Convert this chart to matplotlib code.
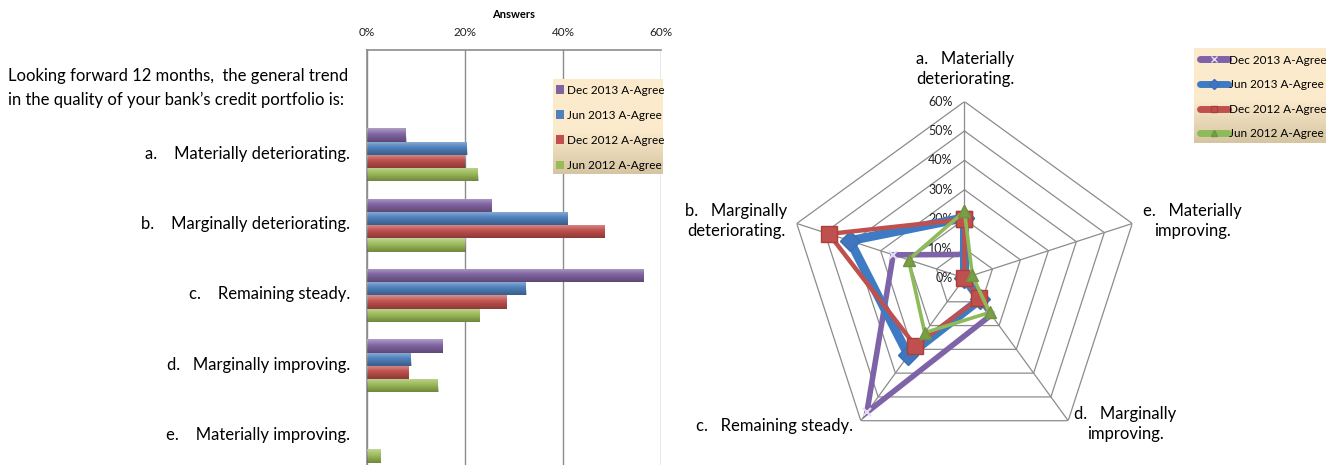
import numpy as np
import matplotlib.pyplot as plt
from matplotlib.patches import Patch
from matplotlib.lines import Line2D

plt.rcParams['font.family'] = ['Lato', 'DejaVu Sans']

W, H = 1336, 465

# ---- data -------------------------------------------------------------
question = ["Looking forward 12 months,  the general trend",
            "in the quality of your bank\u2019s credit portfolio is:"]
categories = ["a.    Materially deteriorating.",
              "b.    Marginally deteriorating.",
              "c.    Remaining steady.",
              "d.   Marginally improving.",
              "e.    Materially improving."]
radar_labels = ["a.   Materially\ndeteriorating.",
                "b.   Marginally\ndeteriorating.",
                "c.   Remaining steady.",
                "d.   Marginally\nimproving.",
                "e.   Materially\nimproving."]
series_names = ["Dec 2013 A-Agree", "Jun 2013 A-Agree",
                "Dec 2012 A-Agree", "Jun 2012 A-Agree"]
dec_2013 = [8.0, 25.5, 56.5, 15.5, 0.0]
jun_2013 = [20.5, 41.0, 32.5, 9.0, 0.0]
dec_2012 = [20.0, 48.5, 28.5, 8.5, 0.0]
jun_2012 = [22.7, 20.0, 23.0, 14.5, 2.8]
bar_ticks = [0, 20, 40, 60]
radial_ticks = [0, 10, 20, 30, 40, 50, 60]

series = [dec_2013, jun_2013, dec_2012, jun_2012]
colors = ["#8064A2", "#4F81BD", "#C0504D", "#9BBB59"]


def fx(x):
    return x / W


def fy(y):
    return 1 - y / H


fig = plt.figure(figsize=(W / 100, H / 100), dpi=100)


def gradient_panel(x0, y0, x1, y1, top="#FBEACB", bottom="#D6C5A2"):
    pax = fig.add_axes([fx(x0), fy(y1), fx(x1 - x0), (y1 - y0) / H], zorder=3)
    t = np.array(plt.matplotlib.colors.to_rgb(top))
    b = np.array(plt.matplotlib.colors.to_rgb(bottom))
    s = np.linspace(0, 1, 100)[:, None]
    s = np.where(s < 0.55, 0, (s - 0.55) / 0.45)
    img = (t[None, :] * (1 - s) + b[None, :] * s)[:, None, :]
    pax.imshow(img, aspect="auto", extent=[0, 1, 0, 1])
    pax.set_axis_off()
    return pax


# ---- horizontal bar chart --------------------------------------------
ax = fig.add_axes([fx(367), 0, fx(661 - 367), fy(50)])
n = len(categories)
y = np.arange(n)
h = 0.188
offsets = [-1.5 * h, -0.5 * h, 0.5 * h, 1.5 * h]

shade = np.zeros((50, 1, 4))
ramp = np.linspace(0, 1, 50)
for i, r in enumerate(ramp):
    if r < 0.45:
        shade[i, 0] = [1, 1, 1, 0.38 * (1 - r / 0.45)]
    else:
        shade[i, 0] = [0, 0, 0, 0.28 * (r - 0.45) / 0.55]

for vals, off, col in zip(series, offsets, colors):
    bars = ax.barh(y + off, vals, height=h, color=col, zorder=2)
    for bar in bars:
        bx, by = bar.get_x(), bar.get_y()
        bw, bh = bar.get_width(), bar.get_height()
        if bw <= 0:
            continue
        im = ax.imshow(shade, aspect="auto", extent=[bx, bx + bw, by + bh, by],
                       zorder=3, interpolation="bilinear")
        im.set_clip_path(bar)

ax.set_xlim(0, 60)
ax.set_ylim(4.41, -1.49)
ax.set_xticks(bar_ticks)
ax.set_xticklabels([f"{t}%" for t in bar_ticks], fontsize=8.5, color="#222222")
ax.xaxis.tick_top()
ax.tick_params(axis="x", length=0, pad=9)
ax.set_yticks([])
ax.set_xlabel("Answers", fontsize=8, fontweight="bold", labelpad=6)
ax.xaxis.set_label_position("top")
ax.grid(axis="x", color="#8c8c8c", linewidth=1.0, zorder=0)
ax.set_axisbelow(True)
for side in ["right", "bottom"]:
    ax.spines[side].set_visible(False)
for side in ["left", "top"]:
    ax.spines[side].set_color("#8c8c8c")
    ax.spines[side].set_linewidth(1.2)

# question and category labels
fig.text(fx(8), fy(76), question[0], fontsize=12, ha="left", va="center")
fig.text(fx(8), fy(100), question[1], fontsize=12, ha="left", va="center")
for lab, yc in zip(categories, y):
    ax.annotate(lab, xy=(0, yc), xycoords=("axes fraction", "data"),
                xytext=(350 - 367, 1), textcoords="offset pixels",
                ha="right", va="center", fontsize=12, annotation_clip=False)

# legend of bar chart
gradient_panel(553, 79, 663, 174)
bar_handles = [Patch(facecolor=c, edgecolor="none") for c in colors]
fig.legend(bar_handles, series_names, loc="upper left",
           bbox_to_anchor=(fx(552), fy(81)), frameon=False, fontsize=8.5,
           handlelength=0.75, handleheight=0.75, handletextpad=0.25,
           labelspacing=1.2, borderaxespad=0, borderpad=0.3)

# ---- radar chart ------------------------------------------------------
cx, cy, R = 964.5, 278.0, 176.4
rax = fig.add_axes([fx(cx - R), fy(cy + R), fx(2 * R), 2 * R / H], projection="polar")
rax.set_theta_offset(np.pi / 2)
rax.set_theta_direction(1)
rax.set_ylim(0, 60)
rax.set_axis_off()

angles = np.arange(n) * 2 * np.pi / n
closed = np.concatenate([angles, angles[:1]])
for r in radial_ticks[1:]:
    rax.plot(closed, [r] * (n + 1), color="#8c8c8c", lw=0.9, zorder=1)
for a in angles:
    rax.plot([a, a], [0, radial_ticks[-1]], color="#8c8c8c", lw=0.9, zorder=1)
for r in radial_ticks:
    rax.annotate(f"{r}%", xy=(0, r), xytext=(-8.5, 0), textcoords="offset points",
                 ha="right", va="center", fontsize=9, color="#222222")

styles = [
    dict(lw=4.0, marker="x", ms=6, mew=1.5, mfc="#ddd5ee", mec="#e4ddf2"),
    dict(lw=6.5, marker="D", ms=10, mfc="#3f76bd", mec="#3a6fb5"),
    dict(lw=3.2, marker="s", ms=11, mfc="#C0504D", mec="#a8403c"),
    dict(lw=2.6, marker="^", ms=8, mfc="#7a9e45", mec="#6f9340"),
]
line_colors = ["#7F63A8", "#3F7BC4", "#C0504D", "#8DBB5A"]
for k, (vals, col, st) in enumerate(zip(series, line_colors, styles)):
    v = list(vals) + [vals[0]]
    rax.plot(closed, v, color=col, zorder=3 + k, solid_joinstyle="miter",
             clip_on=False, **st)

radar_pos = [(965, 69, "center"), (736, 221, "center"), (774, 426, "center"),
             (1125, 424, "center"), (1192, 221, "center")]
for lab, (px, py, ha) in zip(radar_labels, radar_pos):
    fig.text(fx(px), fy(py), lab, fontsize=12, ha=ha, va="center",
             linespacing=1.25, multialignment="center")

# legend of radar chart
gradient_panel(1194, 48, 1326, 143)
radar_handles = [Line2D([], [], color=c, lw=5, solid_capstyle="round",
                        marker=st["marker"], ms=5, mfc=st["mfc"], mec=st["mec"])
                 for c, st in zip(line_colors, styles)]
fig.legend(radar_handles, series_names, loc="upper left",
           bbox_to_anchor=(fx(1196), fy(51)), frameon=False, fontsize=8.5,
           handlelength=2.4, handletextpad=0.1, labelspacing=1.15,
           borderaxespad=0, borderpad=0.3)

fig.savefig("out.png", dpi=100)
